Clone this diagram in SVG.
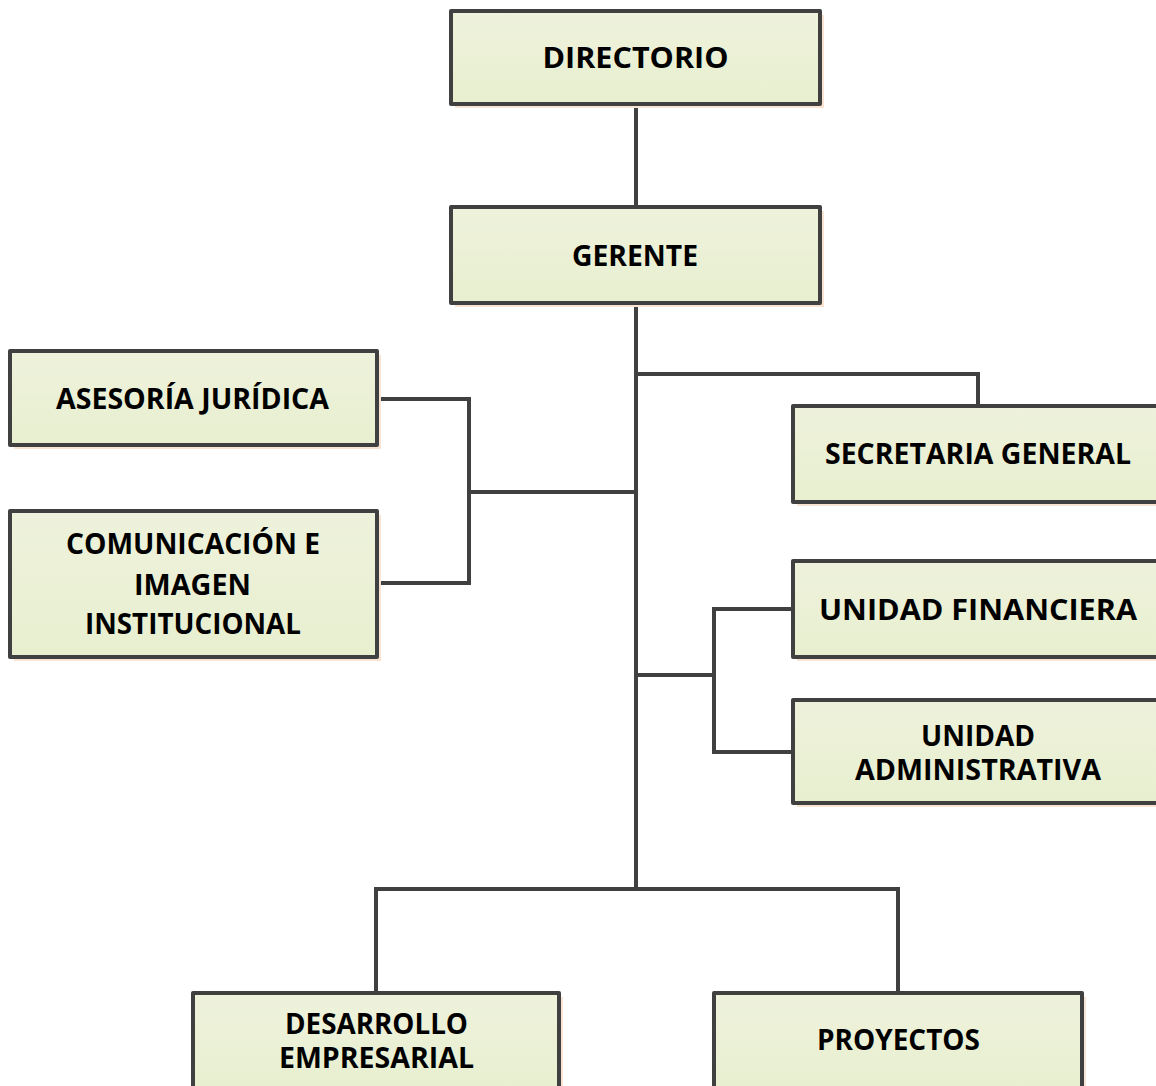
<svg xmlns="http://www.w3.org/2000/svg" width="1156" height="1086" viewBox="0 0 1156 1086">
<style>
.box{fill:url(#g);stroke:#404040;stroke-width:4;stroke-linejoin:round}
.sh{fill:#f9e3d3}
.t{font-family:"Open Sans","Noto Sans","Liberation Sans",sans-serif;font-weight:bold;fill:#000;text-anchor:middle;font-size:29px}
.c{fill:none;stroke:#404040;stroke-width:4;stroke-linejoin:miter}
</style>
<defs>
<linearGradient id="g" x1="0" y1="0" x2="0" y2="1">
<stop offset="0" stop-color="#eef2dc"/>
<stop offset="1" stop-color="#e8efcf"/>
</linearGradient>
</defs>
<rect width="1156" height="1086" fill="#fff"/>
<g id="connectors">
<path class="c" d="M636 104V889"/>
<path class="c" d="M636 374H978V406"/>
<path class="c" d="M636 492H469M377 399H469V583H377"/>
<path class="c" d="M636 675H714M793 609H714V752H793"/>
<path class="c" d="M376 993V889H898V993"/>
</g>
<g id="directorio">
<rect class="sh" x="455" y="15" width="369" height="93"/>
<rect class="box" x="451" y="11" width="369" height="93"/>
<text class="t" x="635.5" y="68" font-size="33" textLength="186" lengthAdjust="spacingAndGlyphs">DIRECTORIO</text>
</g>
<g id="gerente">
<rect class="sh" x="455" y="211" width="369" height="96"/>
<rect class="box" x="451" y="207" width="369" height="96"/>
<text class="t" x="635" y="266" textLength="126" lengthAdjust="spacingAndGlyphs">GERENTE</text>
</g>
<g id="asesoria">
<rect class="sh" x="14" y="355" width="367" height="94"/>
<rect class="box" x="10" y="351" width="367" height="94"/>
<text class="t" x="192.5" y="409" textLength="273" lengthAdjust="spacingAndGlyphs">ASESORÍA JURÍDICA</text>
</g>
<g id="comunicacion">
<rect class="sh" x="14" y="515" width="367" height="146"/>
<rect class="box" x="10" y="511" width="367" height="146"/>
<text class="t" x="193" y="554" textLength="254" lengthAdjust="spacingAndGlyphs">COMUNICACIÓN E</text>
<text class="t" x="192.5" y="595" textLength="117" lengthAdjust="spacingAndGlyphs">IMAGEN</text>
<text class="t" x="193" y="634" textLength="216" lengthAdjust="spacingAndGlyphs">INSTITUCIONAL</text>
</g>
<g id="secretaria">
<rect class="sh" x="797" y="410" width="370" height="96"/>
<rect class="box" x="793" y="406" width="370" height="96"/>
<text class="t" x="978" y="464" textLength="306" lengthAdjust="spacingAndGlyphs">SECRETARIA GENERAL</text>
</g>
<g id="financiera">
<rect class="sh" x="797" y="565" width="370" height="96"/>
<rect class="box" x="793" y="561" width="370" height="96"/>
<text class="t" x="978" y="620" font-size="31" textLength="318" lengthAdjust="spacingAndGlyphs">UNIDAD FINANCIERA</text>
</g>
<g id="administrativa">
<rect class="sh" x="797" y="704" width="370" height="103"/>
<rect class="box" x="793" y="700" width="370" height="103"/>
<text class="t" x="978" y="746" textLength="114" lengthAdjust="spacingAndGlyphs">UNIDAD</text>
<text class="t" x="978" y="780" textLength="246" lengthAdjust="spacingAndGlyphs">ADMINISTRATIVA</text>
</g>
<g id="desarrollo">
<rect class="sh" x="197" y="997" width="366" height="100"/>
<rect class="box" x="193" y="993" width="366" height="100"/>
<text class="t" x="376.5" y="1034" textLength="183" lengthAdjust="spacingAndGlyphs">DESARROLLO</text>
<text class="t" x="376.5" y="1068" textLength="195" lengthAdjust="spacingAndGlyphs">EMPRESARIAL</text>
</g>
<g id="proyectos">
<rect class="sh" x="718" y="997" width="368" height="100"/>
<rect class="box" x="714" y="993" width="368" height="100"/>
<text class="t" x="898.5" y="1050" textLength="163" lengthAdjust="spacingAndGlyphs">PROYECTOS</text>
</g>
</svg>
